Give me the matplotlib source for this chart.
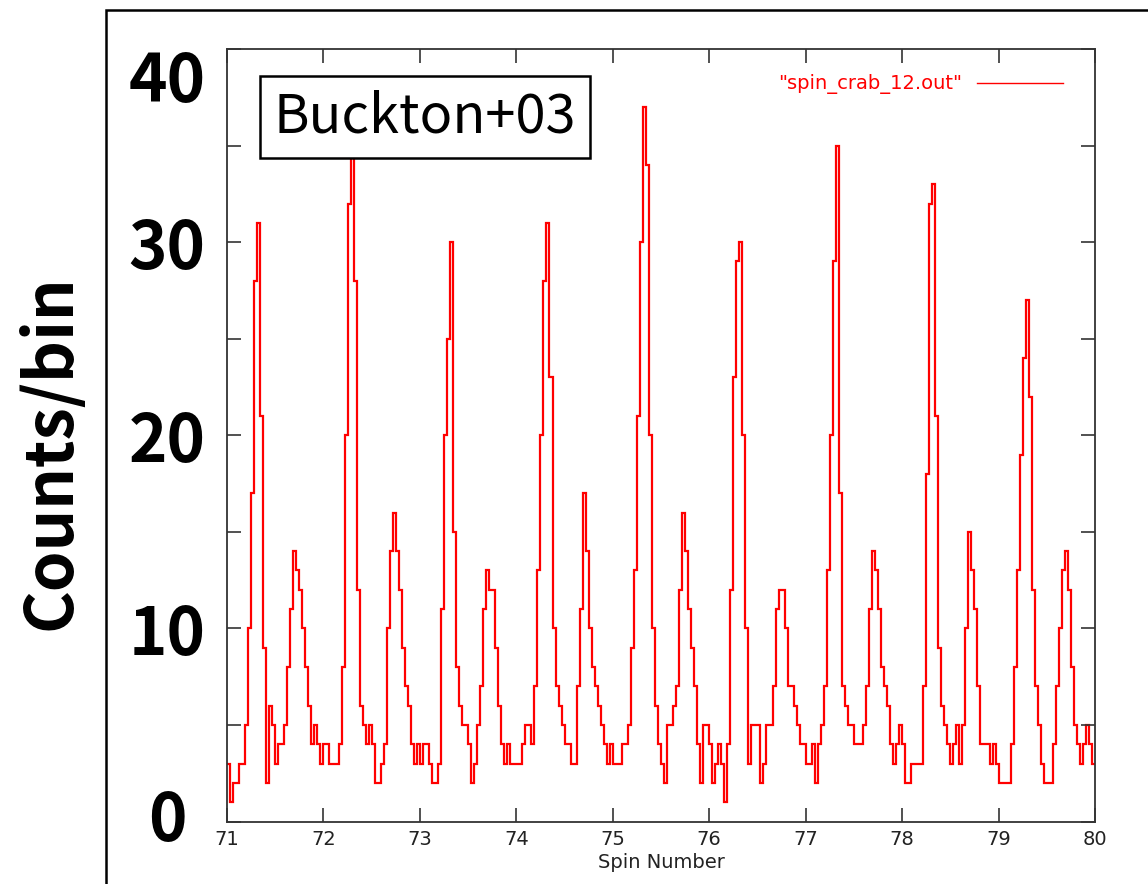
import numpy as np
import matplotlib.pyplot as plt
from matplotlib.patches import Rectangle

# counts per phase bin (32 bins per spin)
spin71 = [3, 1, 2, 2, 3, 3, 5, 10, 17, 28, 31, 21, 9, 2, 6, 5, 3, 4, 4, 5, 8, 11, 14, 13, 12, 10, 8, 6, 4, 5, 4, 3]
spin72 = [4, 4, 3, 3, 3, 4, 8, 20, 32, 35, 28, 12, 6, 5, 4, 5, 4, 2, 2, 3, 4, 10, 14, 16, 14, 12, 9, 7, 6, 4, 3, 4]
spin73 = [3, 4, 4, 3, 2, 2, 3, 11, 20, 25, 30, 15, 8, 6, 5, 5, 4, 2, 3, 5, 7, 11, 13, 12, 12, 9, 6, 4, 3, 4, 3, 3]
spin74 = [3, 3, 4, 5, 5, 4, 7, 13, 20, 28, 31, 23, 10, 7, 6, 5, 4, 4, 3, 3, 7, 11, 17, 14, 10, 8, 7, 6, 5, 4, 3, 4]
spin75 = [3, 3, 3, 4, 4, 5, 9, 13, 21, 30, 37, 34, 20, 10, 6, 4, 3, 2, 5, 5, 6, 7, 12, 16, 14, 11, 9, 7, 4, 2, 5, 5]
spin76 = [4, 2, 3, 4, 3, 1, 4, 12, 23, 29, 30, 20, 10, 3, 5, 5, 5, 2, 3, 5, 5, 7, 11, 12, 12, 10, 7, 7, 6, 5, 4, 4]
spin77 = [3, 3, 4, 2, 4, 5, 7, 13, 20, 29, 35, 17, 7, 6, 5, 5, 4, 4, 4, 5, 7, 11, 14, 13, 11, 8, 7, 6, 4, 3, 4, 5]
spin78 = [4, 2, 2, 3, 3, 3, 3, 7, 18, 32, 33, 21, 9, 6, 5, 4, 3, 4, 5, 3, 5, 10, 15, 13, 11, 7, 4, 4, 4, 3, 4, 3]
spin79 = [2, 2, 2, 2, 4, 8, 13, 19, 24, 27, 22, 12, 7, 5, 3, 2, 2, 2, 4, 7, 10, 13, 14, 12, 8, 5, 4, 3, 4, 5, 4, 3]

xtick_vals = [71, 72, 73, 74, 75, 76, 77, 78, 79, 80]
xtick_labels = ['71', '72', '73', '74', '75', '76', '77', '78', '79', '80']
ytick_vals = [0, 5, 10, 15, 20, 25, 30, 35, 40]
ytick_labels = ['0', '', '10', '', '20', '', '30', '', '40']

counts = np.concatenate([spin71, spin72, spin73, spin74, spin75,
                         spin76, spin77, spin78, spin79])
edges = np.linspace(71, 80, len(counts) + 1)

W, H = 1148, 884
fig = plt.figure(figsize=(W / 100, H / 100), dpi=100)
ax = fig.add_axes([227 / W, 1 - 821.5 / H, 868 / W, 772.5 / H])

ax.stairs(counts, edges, baseline=None, color='#ff0000', lw=1.6,
          label='"spin_crab_12.out"')

ax.set_xlim(71, 80)
ax.set_ylim(0, 40)
ax.set_xticks(xtick_vals, xtick_labels)
ax.set_yticks(ytick_vals, ytick_labels)
ax.tick_params(direction='in', length=10, width=1.2, color='#333333',
               top=True, right=True)
ax.tick_params(axis='x', labelsize=14, pad=6, labelcolor='#222222')
ax.tick_params(axis='y', pad=43)
for lab in ax.get_yticklabels():
    lab.set_fontfamily('Noto Sans CJK JP')
    lab.set_fontweight('bold')
    lab.set_fontsize(47)
    lab.set_horizontalalignment('center')
ax.get_yticklabels()[-1].set_verticalalignment('top')
ax.get_yticklabels()[0].set_verticalalignment('center')
for s in ax.spines.values():
    s.set_color('#333333')
    s.set_linewidth(1.3)

ax.set_xlabel('Spin Number', fontsize=14, labelpad=3, color='#222222')
ax.set_ylabel('Counts/bin', family='Noto Sans CJK JP', fontweight='bold',
              fontsize=47, va='center')
ax.yaxis.set_label_coords(-0.203, 0.478)

leg = ax.legend(loc='upper right', bbox_to_anchor=(0.963, 0.967),
                frameon=False, markerfirst=False, handlelength=4.4,
                handletextpad=0.8, borderpad=0, borderaxespad=0,
                fontsize=14, labelcolor='#ff0000')
leg.get_lines()[0].set_linewidth(1.0)

ax.text(0.228, 0.912, 'Buckton+03', transform=ax.transAxes,
        family='Noto Sans CJK JP', fontsize=39, ha='center', va='center',
        zorder=5,
        bbox=dict(boxstyle='square,pad=0.25', fc='white', ec='black', lw=1.8))

# frame around the whole panel (runs off the right and bottom edges)
fig.add_artist(Rectangle((106 / W, -0.1), 1.2, 1.1 - 10 / H,
                         transform=fig.transFigure, fill=False,
                         ec='black', lw=1.8, clip_on=False))

fig.savefig('out.png', dpi=100)
